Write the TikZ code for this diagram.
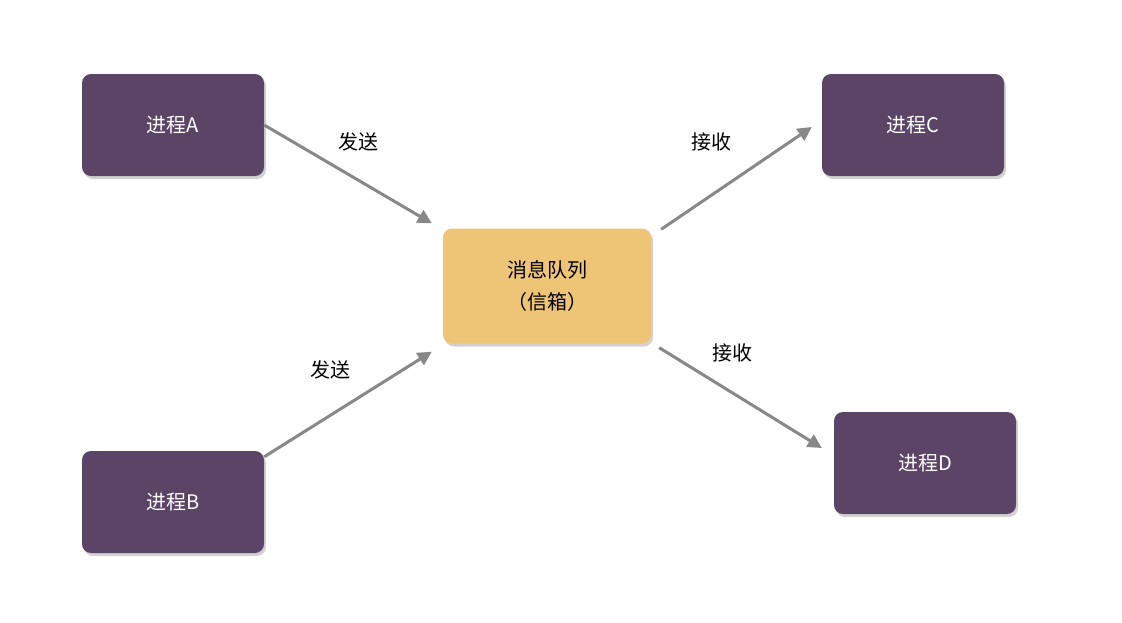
\documentclass[tikz,border=0pt]{standalone}
\usepackage{fontspec}
\setmainfont{Noto Sans CJK SC}
\usetikzlibrary{shadows,arrows.meta}
\definecolor{proc}{HTML}{5B4466}
\definecolor{queue}{HTML}{EEC477}
\definecolor{arr}{HTML}{888888}
\begin{document}
\begin{tikzpicture}[x=1pt,y=-1pt,
  box/.style={rounded corners=9pt,minimum width=182pt,minimum height=102pt,inner sep=0pt,
    font=\fontsize{20}{32}\selectfont,drop shadow={shadow xshift=2pt,shadow yshift=-3pt,opacity=0.35}},
  procbox/.style={box,fill=proc,text=white},
  arrow/.style={draw=arr,line width=3pt,-{Triangle[length=14pt,width=14pt]}},
  lbl/.style={font=\fontsize{20}{24}\selectfont}]
\useasboundingbox[fill=white] (0,0) rectangle (1122,622);
\node[procbox] (A) at (173,125) {进程A};
\node[procbox] (B) at (173,502) {进程B};
\node[procbox] (C) at (913,125) {进程C};
\node[procbox] (D) at (925,463) {进程D};
\node[box,fill=queue,minimum width=208pt,minimum height=115pt,align=center] (Q) at (547,286) {消息队列\\（信箱）};
\draw[arrow] (A.east) -- ([xshift=-11pt,yshift=5pt]Q.north west);
\draw[arrow] ([yshift=-6pt]B.north east) -- ([xshift=-11pt,yshift=-8pt]Q.south west);
\draw[arrow] ([xshift=10pt,yshift=-1pt]Q.north east) -- ([xshift=-10pt,yshift=-2pt]C.west);
\draw[arrow] ([xshift=8pt,yshift=-4pt]Q.south east) -- ([xshift=-12pt,yshift=15pt]D.west);
\node[lbl] (l1) at (358,142) {发送};
\node[lbl] (l2) at (330,370) {发送};
\node[lbl] (l3) at (711,142) {接收};
\node[lbl] (l4) at (732,353) {接收};
\end{tikzpicture}
\end{document}
